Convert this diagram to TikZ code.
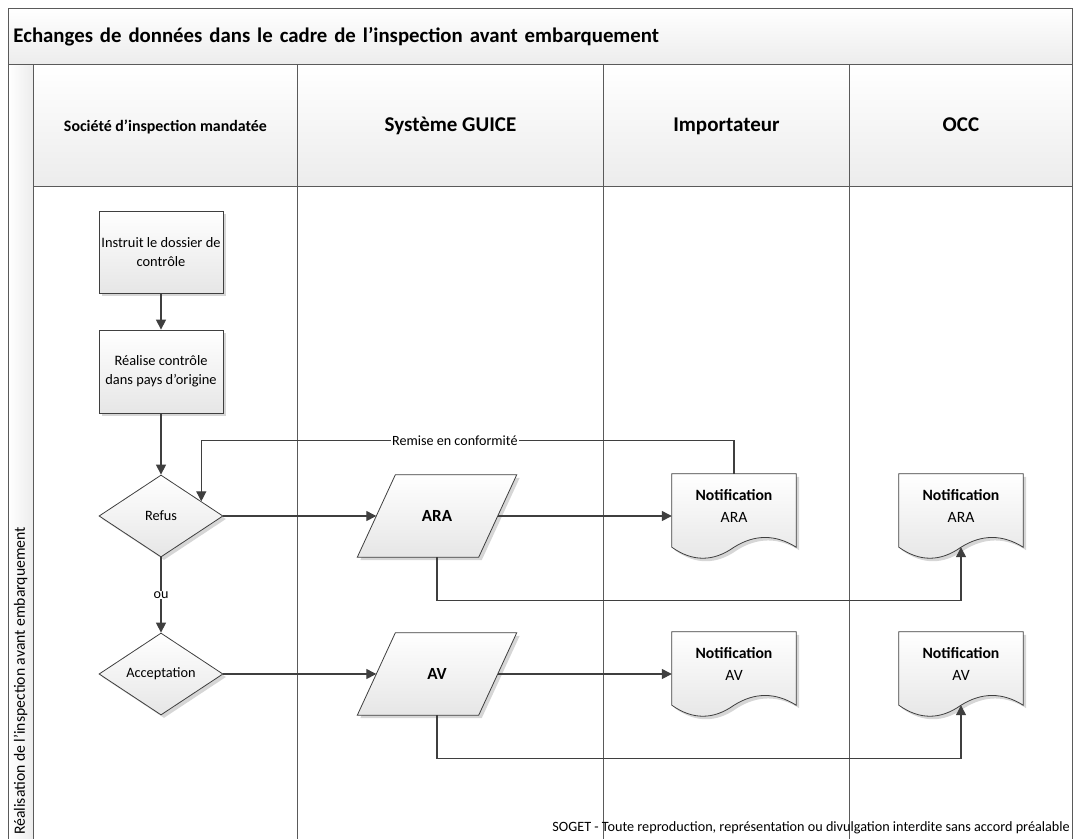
\documentclass[tikz,border=0pt]{standalone}
\usepackage{fontspec}
\setmainfont{Carlito}
\usetikzlibrary{shapes.geometric,arrows.meta,calc,shadows}

\definecolor{ink}{HTML}{3F3F3F}
\definecolor{laneline}{HTML}{5A5A5A}
\definecolor{fillbot}{HTML}{E6E6E6}
\definecolor{headbot}{HTML}{ECECEC}
\definecolor{shadowc}{HTML}{D6D6D6}

\pgfdeclarelayer{lanes}
\pgfdeclarelayer{shapes}
\pgfsetlayers{lanes,shapes,main}

\newcommand\fs[2]{\fontsize{#1}{#2}\selectfont}

% outline of a document symbol drawn on the box of node #1
\newcommand\docpath[1]{(#1.north west) -- (#1.north east) -- (#1.south east)
  .. controls +(-20.7,-13) and +(20.7,-13) .. (#1.south)
  .. controls +(-20.7,14.7) and +(20.7,14.7) .. (#1.south west) -- cycle}
% outline of a data (parallelogram) symbol drawn on the box of node #1
\newcommand\parapath[1]{([xshift=19pt]#1.north west) -- ([xshift=19pt]#1.north east)
  -- ([xshift=-19pt]#1.south east) -- ([xshift=-19pt]#1.south west) -- cycle}

\tikzset{
  lanecell/.style={draw=laneline, line width=0.9pt, top color=white, bottom color=headbot, inner sep=0pt},
  laneline/.style={draw=laneline, line width=0.9pt},
  flowshadow/.style={drop shadow={shadow xshift=3pt, shadow yshift=-3pt, fill=shadowc, opacity=1}},
  stepbox/.style={rectangle, draw=ink, line width=0.8pt, top color=white, bottom color=fillbot,
    minimum width=124pt, minimum height=82pt, inner sep=2pt, align=center, font=\fs{14.4}{19}, flowshadow},
  choice/.style={diamond, draw=ink, line width=0.8pt, top color=white, bottom color=fillbot,
    minimum width=124pt, minimum height=82pt, inner sep=0pt, font=\fs{14.3}{16}, flowshadow},
  databox/.style={rectangle, minimum width=121pt, minimum height=82pt, inner sep=0pt, font=\bfseries\fs{17}{19}},
  docbox/.style={rectangle, minimum width=124pt, minimum height=73pt, inner sep=0pt},
  doctext/.style={align=center, inner sep=0pt, font=\fs{15.7}{22}},
  shapefill/.style={draw=ink, line width=0.8pt, top color=white, bottom color=fillbot},
  flow/.style={draw=ink, line width=1.3pt, -{Triangle[length=10pt,width=10pt]}},
  edgelabel/.style={fill=white, inner xsep=1pt, inner ysep=1pt, font=\fs{14.1}{16}},
  headtext/.style={text height=12pt, text depth=0pt},
  headsmall/.style={headtext, font=\bfseries\fs{15.9}{18}},
  headbig/.style={headtext, font=\bfseries\fs{21}{23}},
}

\begin{document}
\begin{tikzpicture}[x=1pt,y=-1pt]
\useasboundingbox (0,0) rectangle (1075,838);

% ---- swimlane frame ----
\begin{pgfonlayer}{lanes}
  \node[lanecell, anchor=north west, minimum width=1064pt, minimum height=56pt,
        text width=1054pt, align=left, inner xsep=5pt, font=\bfseries\fs{20.8}{23}]
        (title) at (8,8) {Echanges de données dans le cadre de l’inspection avant embarquement};
  \node[lanecell, anchor=north west, minimum width=25pt, minimum height=790pt,
        left color=white, right color=headbot] (side) at (8,64) {};
  \node[lanecell, anchor=north west, minimum width=264pt, minimum height=122pt, headsmall]
        (h1) at (33,64) {Société d’inspection mandatée};
  \node[lanecell, anchor=north west, minimum width=306pt, minimum height=122pt, headbig]
        (h2) at (297,64) {Système GUICE};
  \node[lanecell, anchor=north west, minimum width=246pt, minimum height=122pt, headbig]
        (h3) at (603,64) {Importateur};
  \node[lanecell, anchor=north west, minimum width=223pt, minimum height=122pt, headbig]
        (h4) at (849,64) {OCC};
  \coordinate (bottom) at (0,854);
  \draw[laneline] (h1.south west) -- (h1.south west |- bottom);
  \draw[laneline] (h2.south west) -- (h2.south west |- bottom);
  \draw[laneline] (h3.south west) -- (h3.south west |- bottom);
  \draw[laneline] (h4.south west) -- (h4.south west |- bottom);
  \draw[laneline] (h4.south east) -- (h4.south east |- bottom);
\end{pgfonlayer}

\node[rotate=90, inner sep=0pt, font=\fs{15.7}{18}] (sidetxt) at (20.5,681)
  {Réalisation de l’inspection avant embarquement};

% ---- flow nodes ----
\node[stepbox] (box1) at (161,252) {Instruit le dossier de\\contrôle};
\node[stepbox, minimum height=83pt] (box2) at (161,371.5) {Réalise contrôle\\dans pays d’origine};
\node[choice] (refus) at (161,516) {Refus};
\node[choice] (accept) at (161,674) {Acceptation};

\node[databox] (ara) at (437,516) {ARA};
\node[databox] (av) at (437,674) {AV};

\node[docbox] (impARA) at (734,510.5) {};
\node[docbox] (occARA) at (961,510.5) {};
\node[docbox] (impAV) at (734,668.5) {};
\node[docbox] (occAV) at (961,668.5) {};

\begin{pgfonlayer}{shapes}
  \foreach \n in {impARA,occARA,impAV,occAV}{
    \path[fill=shadowc, transform canvas={xshift=3pt,yshift=-3pt}] \docpath{\n};
    \path[shapefill] \docpath{\n};
  }
  \foreach \n in {ara,av}{
    \path[fill=shadowc, transform canvas={xshift=3pt,yshift=-3pt}] \parapath{\n};
    \path[shapefill] \parapath{\n};
  }
\end{pgfonlayer}

\node[doctext] (impARAtxt) at ([yshift=4.5pt]impARA.center) {\textbf{Notification}\\ARA};
\node[doctext] (occARAtxt) at ([yshift=4.5pt]occARA.center) {\textbf{Notification}\\ARA};
\node[doctext] (impAVtxt) at ([yshift=4.5pt]impAV.center) {\textbf{Notification}\\AV};
\node[doctext] (occAVtxt) at ([yshift=4.5pt]occAV.center) {\textbf{Notification}\\AV};

% ---- connectors ----
\draw[flow] (box1) -- (box2);
\draw[flow] (box2) -- (refus);
\draw[flow] (refus) -- node[edgelabel] (ou) {ou} (accept);
\draw[flow] (refus) -- (ara);
\draw[flow] (accept) -- (av);
\draw[flow] (ara.east) -- (ara.east -| impARA.west);
\draw[flow] (av.east) -- (av.east -| impAV.west);
\draw[flow] (ara.south) |- ($(occARA.south)+(0,53)$) -- (occARA.south);
\draw[flow] (av.south) |- ($(occAV.south)+(0,53)$) -- (occAV.south);
\draw[flow] (impARA.north) -- ++(0,-33) -| node[edgelabel, pos=0.262] (remise) {Remise en conformité} (refus.20);

% ---- footer ----
\node[anchor=east, inner sep=0pt, font=\fs{14.2}{16}] (footer) at (1070,828)
  {SOGET - Toute reproduction, représentation ou divulgation interdite sans accord préalable};
\end{tikzpicture}
\end{document}
